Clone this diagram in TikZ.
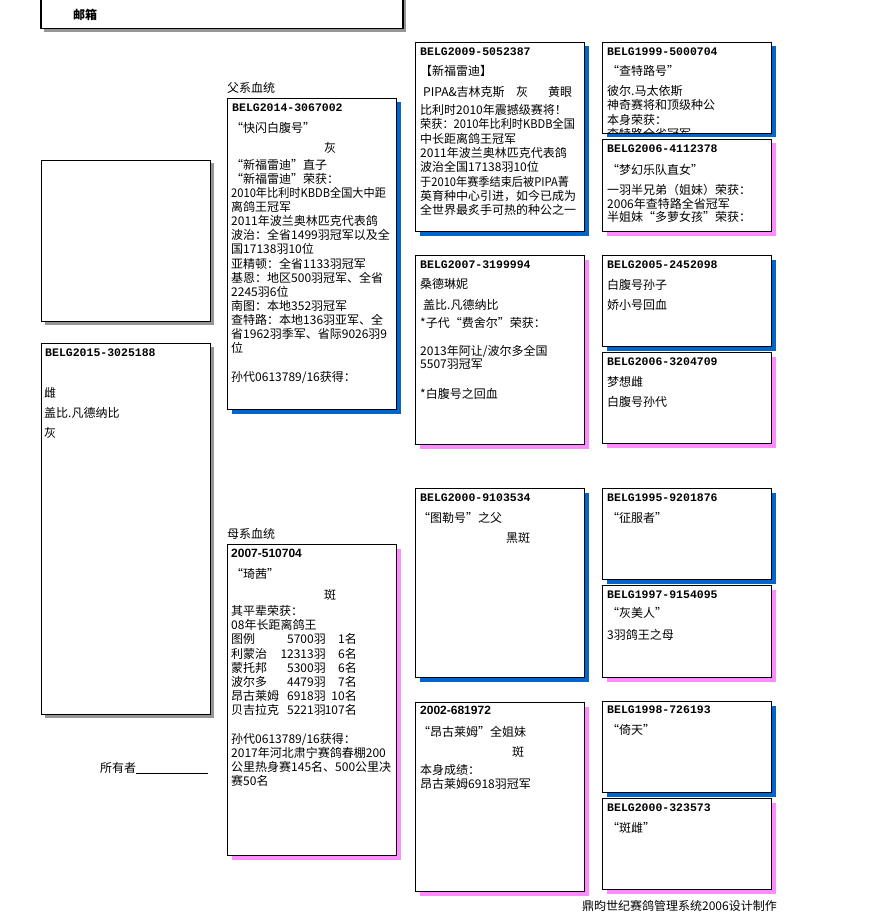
\documentclass[tikz,border=0pt]{standalone}
\usepackage{fontspec}
\newfontfamily\cjk{Noto Sans CJK SC}
\newfontfamily\idf{Liberation Mono}
\newfontfamily\idsf{Liberation Sans}
\usetikzlibrary{shadows}
\definecolor{blueS}{RGB}{0,102,204}
\definecolor{pinkS}{RGB}{255,140,255}
\definecolor{grayS}{RGB}{150,150,150}
\newcommand\Lines[5]{\foreach \t [count=\i from 0] in {#5} {\node[txt] (#1\i) at (#2, #3+4.5+\i*#4) {\t};}}
\newcommand\sq[1]{\scalebox{0.93}[1]{#1}}
\begin{document}
\begin{tikzpicture}[x=1pt,y=-1pt,
 box/.style={draw=black, line width=1pt, fill=white, inner sep=0pt, anchor=north west},
 bsh/.style={drop shadow={shadow xshift=4pt, shadow yshift=-4pt, fill=blueS, opacity=1}},
 psh/.style={drop shadow={shadow xshift=4pt, shadow yshift=-4pt, fill=pinkS, opacity=1}},
 gsh/.style={drop shadow={shadow xshift=3pt, shadow yshift=-3pt, fill=grayS, opacity=1}},
 txt/.style={anchor=base west, inner sep=0pt, font=\cjk\fontsize{12}{14}\selectfont},
 idt/.style={anchor=base west, inner sep=0pt, font=\idf\bfseries\fontsize{11.5}{13}\selectfont},
 idsn/.style={anchor=base west, inner sep=0pt, font=\idsf\bfseries\fontsize{12}{14}\selectfont},
]
\fill[white] (0,0) rectangle (870,912);
\useasboundingbox (0,0) rectangle (870,912);

% boxes
\node[box, gsh, line width=1.5pt, minimum width=362pt, minimum height=38pt] (top) at (40,-10) {};
\node[box, gsh, minimum width=169pt, minimum height=161pt] (L1) at (41,160) {};
\node[box, gsh, minimum width=169pt, minimum height=371pt] (L2) at (41,343) {};
\node[box, bsh, minimum width=169pt, minimum height=311pt] (sire) at (227,98) {};
\node[box, psh, minimum width=169pt, minimum height=311pt] (dam) at (227,544) {};
\node[box, bsh, minimum width=169pt, minimum height=189pt] (MA) at (415,42) {};
\node[box, psh, minimum width=169pt, minimum height=189pt] (MB) at (415,255) {};
\node[box, bsh, minimum width=169pt, minimum height=189pt] (MC) at (415,488) {};
\node[box, psh, minimum width=169pt, minimum height=189pt] (MD) at (415,702) {};
\node[box, bsh, minimum width=169pt, minimum height=91pt] (R1) at (602,42) {};
\node[box, psh, minimum width=169pt, minimum height=92pt] (R2) at (602,139) {};
\node[box, bsh, minimum width=169pt, minimum height=91pt] (R3) at (602,255) {};
\node[box, psh, minimum width=169pt, minimum height=91pt] (R4) at (602,352) {};
\node[box, bsh, minimum width=169pt, minimum height=91pt] (R5) at (602,488) {};
\node[box, psh, minimum width=169pt, minimum height=92pt] (R6) at (602,585) {};
\node[box, bsh, minimum width=169pt, minimum height=91pt] (R7) at (602,701) {};
\node[box, psh, minimum width=169pt, minimum height=91pt] (R8) at (602,798) {};

% top
\node[txt, font=\cjk\bfseries\fontsize{12}{14}\selectfont] (mail) at (73,19.5) {邮箱};

% left
\node[idt] (l2id) at (45,356.5) {BELG2015-3025188};
\Lines{l2t}{44}{393}{20}{雌,盖比.凡德纳比,灰}
\node[txt] (owner) at (100,772.5) {所有者\rule[-1.5pt]{72pt}{0.6pt}};

% sire
\node[txt] (sirelab) at (227,92.5) {父系血统};
\node[idt] (sireid) at (232,111.5) {BELG2014-3067002};
\node[txt] (sirename) at (231,132.5) {“快闪白腹号”};
\node[txt] (sirecol) at (324,152.5) {灰};
\Lines{sirel}{231}{165}{14.08}{“新福雷迪”直子,“新福雷迪”荣获：,\sq{2010年比利时KBDB全国大中距},离鸽王冠军,2011年波兰奥林匹克代表鸽,波治：全省1499羽冠军以及全,国17138羽10位,亚精顿：全省1133羽冠军,基恩：地区500羽冠军、全省,2245羽6位,南图：本地352羽冠军,查特路：本地136羽亚军、全,省1962羽季军、省际9026羽9,位}
\node[txt] (sireg) at (231,381.5) {孙代0613789/16获得：};

% dam
\node[txt] (damlab) at (227,538.5) {母系血统};
\node[idsn] (damid) at (231,557.5) {2007-510704};
\node[txt] (damname) at (231,578.5) {“琦茜”};
\node[txt] (damcol) at (324,599.5) {斑};
\Lines{daml}{231}{611}{14.2}{其平辈荣获：,08年长距离鸽王}
\foreach \n/\c/\r [count=\k from 2] in {图例/5700羽/1名,利蒙治/12313羽/6名,蒙托邦/5300羽/6名,波尔多/4479羽/7名,昂古莱姆/6918羽/10名,贝吉拉克/5221羽/107名}{
  \node[txt] (dn\k) at (231, 615.5+\k*14.2) {\n};
  \node[txt, anchor=base east] (dc\k) at (326, 615.5+\k*14.2) {\c};
  \node[txt, anchor=base east] (dr\k) at (357, 615.5+\k*14.2) {\r};
}
\Lines{damg}{231}{738.8}{14.2}{孙代0613789/16获得：,2017年河北肃宁赛鸽春棚200,公里热身赛145名、500公里决,赛50名}

% middle A
\node[idt] (MAid) at (420,55.5) {BELG2009-5052387};
\node[txt] (MAn) at (420,75.5) {【新福雷迪】};
\node[txt] (MAp) at (423,96.5) {PIPA\&吉林克斯};
\node[txt] (MAc) at (516,96.5) {灰};
\node[txt] (MAe) at (548,96.5) {黄眼};
\Lines{MAl}{420}{110}{14.3}{比利时2010年震撼级赛将！,\sq{荣获：2010年比利时KBDB全国},中长距离鸽王冠军,2011年波兰奥林匹克代表鸽,波治全国17138羽10位,\sq{于2010年赛季结束后被PIPA菁},英育种中心引进，如今已成为,全世界最炙手可热的种公之一}

% middle B
\node[idt] (MBid) at (420,268.5) {BELG2007-3199994};
\node[txt] (MBn) at (420,288.5) {桑德琳妮};
\node[txt] (MBo) at (423,309.5) {盖比.凡德纳比};
\node[txt] (MBp) at (420,327.5) {*子代“费舍尔”荣获：};
\Lines{MBl}{420}{351}{13}{2013年阿让/波尔多全国,5507羽冠军}
\node[txt] (MBq) at (420,398.5) {*白腹号之回血};

% middle C
\node[idt] (MCid) at (420,501.5) {BELG2000-9103534};
\node[txt] (MCn) at (418,522.5) {“图勒号”之父};
\node[txt] (MCc) at (506,542.5) {黑斑};

% middle D
\node[idsn] (MDid) at (420,714.5) {2002-681972};
\node[txt] (MDn) at (418,736.5) {“昂古莱姆”全姐妹};
\node[txt] (MDc) at (512,756.5) {斑};
\Lines{MDl}{420}{770}{14}{本身成绩：,昂古莱姆6918羽冠军}

% right
\node[idt] (R1id) at (607,55.5) {BELG1999-5000704};
\node[txt] (R1n) at (607,75.5) {“查特路号”};
\Lines{R1l}{607}{91}{14.5}{彼尔.马太依斯,神奇赛将和顶级种公,本身荣获：}
\begin{scope}
\clip (602,42) rectangle (771,133);
\node[txt] (R1x) at (607,138.5) {查特路全省冠军};
\end{scope}

\node[idt] (R2id) at (607,152.5) {BELG2006-4112378};
\node[txt] (R2n) at (607,174.5) {“梦幻乐队直女”};
\Lines{R2l}{607}{190}{13.5}{一羽半兄弟（姐妹）荣获：,2006年查特路全省冠军,半姐妹“多萝女孩”荣获：}

\node[idt] (R3id) at (607,268.5) {BELG2005-2452098};
\Lines{R3l}{607}{285}{20}{白腹号孙子,娇小号回血}

\node[idt] (R4id) at (607,365.5) {BELG2006-3204709};
\Lines{R4l}{607}{382}{20}{梦想雌,白腹号孙代}

\node[idt] (R5id) at (607,501.5) {BELG1995-9201876};
\node[txt] (R5n) at (607,522.5) {“征服者”};

\node[idt] (R6id) at (607,598.5) {BELG1997-9154095};
\node[txt] (R6n) at (607,617.5) {“灰美人”};
\node[txt] (R6m) at (607,639.5) {3羽鸽王之母};

\node[idt] (R7id) at (607,713.5) {BELG1998-726193};
\node[txt] (R7n) at (607,734.5) {“倚天”};

\node[idt] (R8id) at (607,811.5) {BELG2000-323573};
\node[txt] (R8n) at (607,832.5) {“斑雌”};

% footer
\node[txt, anchor=base east] (foot) at (777,910.5) {鼎昀世纪赛鸽管理系统2006设计制作};
\end{tikzpicture}
\end{document}
